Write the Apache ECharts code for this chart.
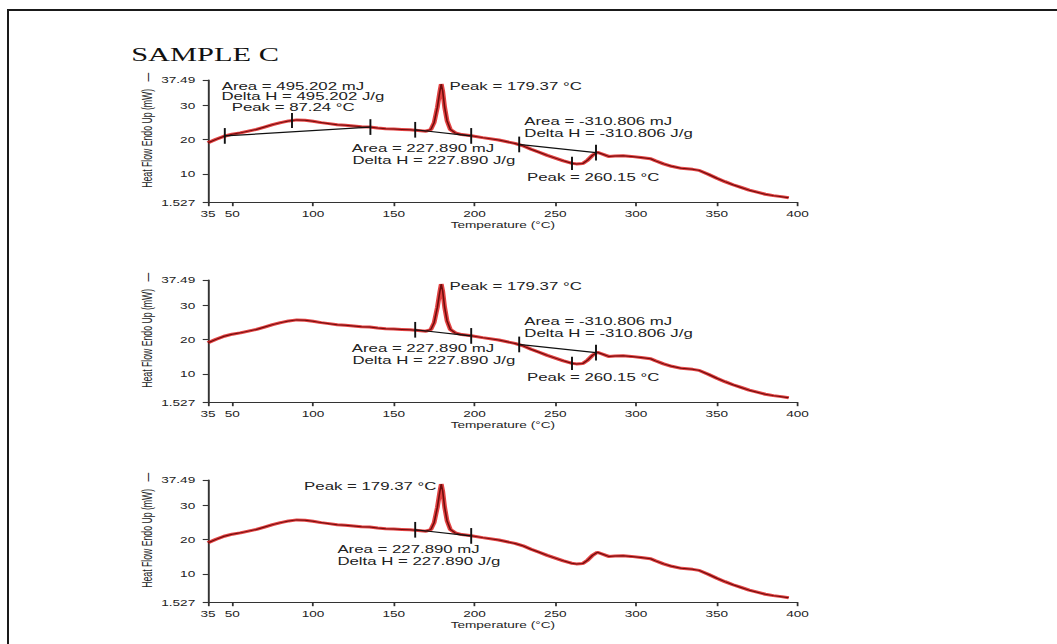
<!DOCTYPE html>
<html><head><meta charset="utf-8">
<script src="https://cdn.jsdelivr.net/npm/echarts@6/dist/echarts.min.js"></script>
<style>
html,body{margin:0;padding:0;background:#fff;overflow:hidden;width:1057px;height:644px;}
#frame{position:absolute;left:7px;top:9px;width:1200px;height:800px;border-top:2px solid #1a1a1a;border-left:2px solid #1a1a1a;}
#chart{position:absolute;left:0;top:0;width:660.625px;height:644px;transform:scaleX(1.6);transform-origin:0 0;}
</style></head><body>
<div id="frame"></div><div id="chart"></div>
<script>
// ---- data ----
const temps = [35,40,45,50,55,60,65,70,75,80,85,90,95,100,105,110,115,120,125,130,135,140,145,150,155,160,165,170,
  173,175,177,178.5,179.4,180.3,181.5,183,185,188,192,197,
  205,215,225,230,235,240,245,250,255,260,
  263,267,270,273,276,279,283,287,292,297,
  303,309,312,317,322,328,335,339,345,350,
  355,360,365,370,375,380,385,390,394.5];
const heatFlow = [19.1,20.1,21.0,21.6,22.0,22.5,23.0,23.7,24.4,25.0,25.5,25.8,25.7,25.4,25.0,24.7,24.4,24.2,24.0,23.8,23.7,23.4,23.2,23.1,23.0,22.9,22.7,22.5,
  23.0,25.0,29.5,34.0,36.3,34.2,29.5,25.5,23.0,22.0,21.5,21.2,
  20.6,19.9,18.9,18.2,17.2,16.3,15.4,14.6,13.8,13.1,
  12.9,13.0,14.0,15.4,16.3,15.8,15.1,15.2,15.3,15.1,
  14.8,14.4,13.8,12.9,12.2,11.6,11.3,11.0,9.8,8.7,
  7.7,6.8,6.0,5.2,4.6,4.0,3.6,3.3,3.0];
const xTickValues = [35,50,100,150,200,250,300,350,400];
const yTickValues = [1.527,10,20,30,37.49];

const baselineMelt1 = [[45.5,21.1],[135.4,23.7]];
const baselineMelt2 = [[163.3,22.9],[197.3,21.1]];
const baselineExo = [[227.3,18.6],[275.2,16.2]];
// peak temperature, tick from, tick to
const peakMelt1 = [87.24, 23.4, 27.8];
const peakMelt2 = [179.37, 34.3, 38.3];
const peakExo = [260.15, 11.1, 15.0];

const labelsMelt1 = ['Area = 495.202 mJ','Delta H = 495.202 J/g','Peak = 87.24 °C'];
const labelsMelt2 = ['Peak = 179.37 °C','Area = 227.890 mJ','Delta H = 227.890 J/g'];
const labelsExo = ['Area = -310.806 mJ','Delta H = -310.806 J/g','Peak = 260.15 °C'];
// text anchors (data coordinates: temperature, heat flow)
const anchorsMelt1 = [[43.5,35.8],[43.3,32.6],[49.7,29.4]];
const anchorsMelt2 = [[184.5,35.8],[124.0,17.5],[124.4,14.1]];
const anchorsMelt2Last = [[94.5,35.8],[115.1,17.3],[115.1,13.8]];
const anchorsExo = [[230.8,25.5],[230.8,21.9],[232.5,9.0]];

const panelTitle = 'SAMPLE C';
const xName = 'Temperature (°C)';
const yName = 'Heat Flow Endo Up (mW)   —';

// ---- build ----
const FONT = '"Liberation Sans", Arial, sans-serif';
const TXT = '#222';
const AX = '#333';
const curve = temps.map((t, i) => [t, heatFlow[i]]);
const panelTops = [80, 280, 480];
const panelEvents = [
  [[baselineMelt1, peakMelt1, labelsMelt1, anchorsMelt1],
   [baselineMelt2, peakMelt2, labelsMelt2, anchorsMelt2],
   [baselineExo, peakExo, labelsExo, anchorsExo]],
  [[baselineMelt2, peakMelt2, labelsMelt2, anchorsMelt2],
   [baselineExo, peakExo, labelsExo, anchorsExo]],
  [[baselineMelt2, peakMelt2, labelsMelt2, anchorsMelt2Last]]
];

const grid = [], xAxis = [], yAxis = [], series = [];
panelTops.forEach((top, i) => {
  grid.push({left: 130, top: top, width: 368.5, height: 122.7});
  xAxis.push({
    type: 'value', gridIndex: i, min: 35, max: 400,
    axisLine: {show: true, onZero: false, lineStyle: {color: AX, width: 1.2}},
    axisTick: {show: true, customValues: xTickValues, length: 3.5, lineStyle: {color: AX, width: 1.1}},
    axisLabel: {customValues: xTickValues, fontSize: 8.5, color: TXT, margin: 6.5, fontFamily: FONT},
    splitLine: {show: false},
    name: xName, nameLocation: 'middle', nameGap: 17.5, nameMoveOverlap: false,
    nameTextStyle: {fontSize: 8.5, color: TXT, fontFamily: FONT}
  });
  yAxis.push({
    type: 'value', gridIndex: i, min: 1.527, max: 37.49,
    axisLine: {show: true, lineStyle: {color: AX, width: 1.2}},
    axisTick: {show: true, customValues: yTickValues, length: 3.3, lineStyle: {color: AX, width: 1.1}},
    axisLabel: {customValues: yTickValues, fontSize: 8.5, color: TXT, margin: 8, fontFamily: FONT},
    splitLine: {show: false},
    name: yName, nameLocation: 'middle', nameGap: 34, nameMoveOverlap: false,
    nameTextStyle: {fontSize: 8.7, color: TXT, fontFamily: FONT, padding: [0, 0, 0, 22]}
  });
  series.push({
    type: 'line', xAxisIndex: i, yAxisIndex: i, data: curve, showSymbol: false, symbol: 'none',
    lineStyle: {color: 'rgba(222,34,34,0.85)', width: 3}, silent: true, z: 2
  });
  series.push({
    type: 'line', xAxisIndex: i, yAxisIndex: i, data: curve, showSymbol: false, symbol: 'none',
    lineStyle: {color: '#6e0c0c', width: 1}, silent: true, z: 3
  });
  panelEvents[i].forEach(([base, peak, labels, anchors]) => {
    const h = 2.3;
    series.push({
      type: 'line', xAxisIndex: i, yAxisIndex: i, data: base, showSymbol: false, symbol: 'none',
      clip: false, silent: true, z: 4,
      lineStyle: {color: '#111', width: 1.2},
      markLine: {
        silent: true, symbol: ['none', 'none'], animation: false,
        label: {show: false},
        lineStyle: {color: '#111', width: 1.2, type: 'solid'},
        data: [
          [{coord: [base[0][0], base[0][1] - h]}, {coord: [base[0][0], base[0][1] + h]}],
          [{coord: [base[1][0], base[1][1] - h]}, {coord: [base[1][0], base[1][1] + h]}],
          [{coord: [peak[0], peak[1]]}, {coord: [peak[0], peak[2]]}]
        ]
      },
      markPoint: {
        silent: true, symbol: 'circle', symbolSize: 0, animation: false,
        data: labels.map((t, k) => ({
          coord: anchors[k],
          label: {show: true, formatter: t, position: 'inside', align: 'left', verticalAlign: 'middle',
                  fontSize: 10.5, color: TXT, fontFamily: FONT}
        }))
      }
    });
  });
});

const chart = echarts.init(document.getElementById('chart'), null, {renderer: 'svg'});
chart.setOption({
  animation: false,
  backgroundColor: 'transparent',
  title: {text: panelTitle, left: 82, top: 45, padding: 0,
          textStyle: {fontFamily: '"Liberation Serif", "Times New Roman", serif', fontSize: 19, fontWeight: 'normal', color: '#111'}},
  grid, xAxis, yAxis, series
});
</script>
</body></html>
